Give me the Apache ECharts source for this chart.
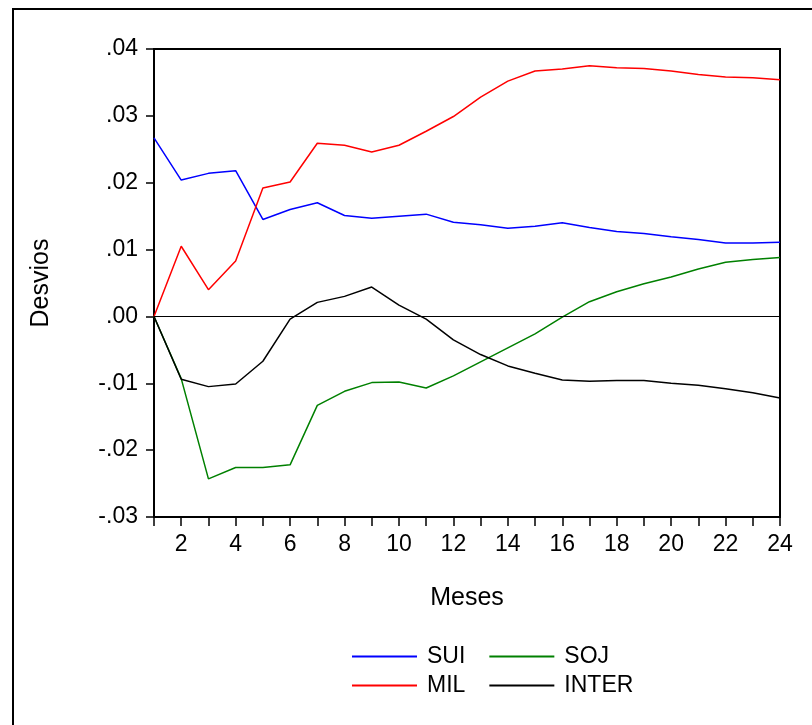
<!DOCTYPE html>
<html>
<head>
<meta charset="utf-8">
<script src="https://cdn.jsdelivr.net/npm/echarts@6/dist/echarts.min.js"></script>
<style>
html,body{margin:0;padding:0;background:#fff;}
#chart{width:812px;height:725px;}
</style>
</head>
<body>
<div id="chart"></div>
<script>
var months = ['1','2','3','4','5','6','7','8','9','10','11','12','13','14','15','16','17','18','19','20','21','22','23','24'];
var yTickLabels = ['-.03','-.02','-.01','.00','.01','.02','.03','.04'];

var SUI   = [0.0267,0.0204,0.0214,0.0218,0.0145,0.0160,0.0170,0.0151,0.0147,0.0150,0.0153,0.0141,0.0137,0.0132,0.0135,0.0140,0.0133,0.0127,0.0124,0.0119,0.0115,0.0110,0.0110,0.0111];
var MIL   = [0.0000,0.0105,0.0040,0.0083,0.0192,0.0201,0.0259,0.0256,0.0246,0.0256,0.0277,0.0299,0.0328,0.0352,0.0367,0.0370,0.0375,0.0372,0.0371,0.0367,0.0362,0.0358,0.0357,0.0354];
var SOJ   = [0.0000,-0.0093,-0.0243,-0.0226,-0.0226,-0.0222,-0.0133,-0.0112,-0.0099,-0.0098,-0.0107,-0.0089,-0.0068,-0.0047,-0.0026,-0.0001,0.0022,0.0037,0.0049,0.0059,0.0071,0.0081,0.0085,0.0088];
var INTER = [0.0000,-0.0094,-0.0105,-0.0101,-0.0067,-0.0004,0.0021,0.0030,0.0044,0.0017,-0.0004,-0.0035,-0.0057,-0.0074,-0.0085,-0.0095,-0.0097,-0.0096,-0.0096,-0.0100,-0.0103,-0.0108,-0.0114,-0.0122];

var FONT = 'Liberation Sans, Arial, sans-serif';

function mkSeries(name, data, color) {
  return {
    name: name, type: 'line', data: data, symbol: 'none', animation: false,
    lineStyle: { color: color, width: 1.5 }, itemStyle: { color: color }
  };
}

var chart = echarts.init(document.getElementById('chart'));
var legendText = { fontFamily: FONT, fontSize: 23, color: '#000', padding: [0, 0, 0, 5] };
var legendBase = { padding: 0, icon: 'rect', itemWidth: 65, itemHeight: 2, itemGap: 24, textStyle: legendText, selectedMode: false };
chart.setOption({
  backgroundColor: '#fff',
  animation: false,
  graphic: [{
    type: 'rect', shape: { x: 13, y: 9, width: 830, height: 800 },
    style: { fill: 'none', stroke: '#000', lineWidth: 2 }, silent: true
  }],
  grid: { left: 154, top: 49, right: 32, bottom: 208, show: true, borderColor: '#000', borderWidth: 2 },
  legend: [
    Object.assign({ data: ['SUI', 'SOJ'], left: 352, top: 645 }, legendBase),
    Object.assign({ data: ['MIL', 'INTER'], left: 352, top: 674 }, legendBase)
  ],
  xAxis: {
    type: 'category', data: months, boundaryGap: false,
    name: 'Meses', nameLocation: 'middle', nameGap: 69,
    nameTextStyle: { fontFamily: FONT, fontSize: 25, color: '#000' },
    axisLine: { onZero: false, lineStyle: { color: '#000', width: 2 } },
    axisTick: { interval: 0, length: 9, lineStyle: { color: '#000', width: 1.5 } },
    axisLabel: { interval: function (i, v) { return (i + 1) % 2 === 0; }, margin: 16, fontFamily: FONT, fontSize: 23, color: '#000' },
    splitLine: { show: false }
  },
  yAxis: {
    type: 'value', min: -0.03, max: 0.04, interval: 0.01,
    name: 'Desvios', nameLocation: 'middle', nameGap: 100,
    nameTextStyle: { fontFamily: FONT, fontSize: 25, color: '#000' },
    axisLine: { show: true, lineStyle: { color: '#000', width: 2 } },
    axisTick: { show: true, length: 8, lineStyle: { color: '#000', width: 1.5 } },
    axisLabel: {
      margin: 16, fontFamily: FONT, fontSize: 23, color: '#000',
      formatter: function (v) { return yTickLabels[Math.round((v + 0.03) / 0.01)]; }
    },
    splitLine: { show: false }
  },
  series: [
    Object.assign(mkSeries('SUI', SUI, '#0000ff'), {
      markLine: { silent: true, symbol: 'none', label: { show: false },
        lineStyle: { color: '#000', width: 1, type: 'solid' }, data: [{ yAxis: 0 }] }
    }),
    mkSeries('MIL', MIL, '#ff0000'),
    mkSeries('SOJ', SOJ, '#008000'),
    mkSeries('INTER', INTER, '#000000')
  ]
});
</script>
</body>
</html>
